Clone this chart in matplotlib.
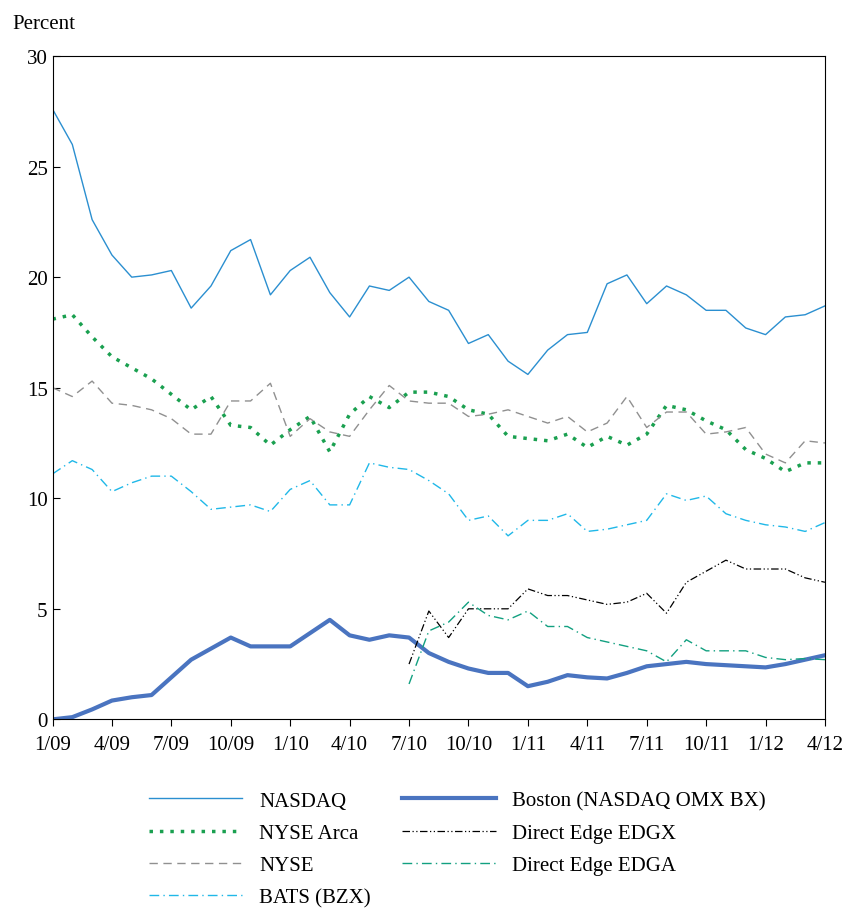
import numpy as np
import matplotlib
matplotlib.use("Agg")
import matplotlib.pyplot as plt

plt.rcParams['font.family'] = ['Liberation Serif', 'DejaVu Serif']

# -------- Data (monthly, 1/09 .. 4/12) --------
months = np.arange(40)
tick_labels = ["1/09", "4/09", "7/09", "10/09", "1/10", "4/10", "7/10", "10/10",
               "1/11", "4/11", "7/11", "10/11", "1/12", "4/12"]

nasdaq = [27.6, 26.0, 22.6, 21.0, 20.0, 20.1, 20.3, 18.6, 19.6, 21.2, 21.7, 19.2, 20.3, 20.9,
          19.3, 18.2, 19.6, 19.4, 20.0, 18.9, 18.5, 17.0, 17.4, 16.2, 15.6, 16.7, 17.4, 17.5,
          19.7, 20.1, 18.8, 19.6, 19.2, 18.5, 18.5, 17.7, 17.4, 18.2, 18.3, 18.7]
arca = [18.1, 18.3, 17.3, 16.4, 15.9, 15.4, 14.7, 14.0, 14.6, 13.3, 13.2, 12.4, 13.1, 13.7,
        12.1, 13.8, 14.6, 14.1, 14.8, 14.8, 14.6, 14.0, 13.8, 12.8, 12.7, 12.6, 12.9, 12.3,
        12.8, 12.4, 12.9, 14.2, 14.0, 13.5, 13.1, 12.2, 11.8, 11.2, 11.6, 11.6]
nyse = [15.0, 14.6, 15.3, 14.3, 14.2, 14.0, 13.6, 12.9, 12.9, 14.4, 14.4, 15.2, 12.8, 13.6,
        13.0, 12.8, 14.0, 15.1, 14.4, 14.3, 14.3, 13.7, 13.8, 14.0, 13.7, 13.4, 13.7, 13.0,
        13.4, 14.6, 13.2, 13.9, 13.9, 12.9, 13.0, 13.2, 12.0, 11.6, 12.6, 12.5]
bats = [11.1, 11.7, 11.3, 10.3, 10.7, 11.0, 11.0, 10.3, 9.5, 9.6, 9.7, 9.4, 10.4, 10.8,
        9.7, 9.7, 11.6, 11.4, 11.3, 10.8, 10.2, 9.0, 9.2, 8.3, 9.0, 9.0, 9.3, 8.5,
        8.6, 8.8, 9.0, 10.2, 9.9, 10.1, 9.3, 9.0, 8.8, 8.7, 8.5, 8.9]
boston = [0.0, 0.1, 0.45, 0.85, 1.0, 1.1, 1.9, 2.7, 3.2, 3.7, 3.3, 3.3, 3.3, 3.9,
          4.5, 3.8, 3.6, 3.8, 3.7, 3.0, 2.6, 2.3, 2.1, 2.1, 1.5, 1.7, 2.0, 1.9,
          1.85, 2.1, 2.4, 2.5, 2.6, 2.5, 2.45, 2.4, 2.35, 2.5, 2.7, 2.9]
edgx = [2.5, 4.9, 3.7, 5.0, 5.0, 5.0, 5.9, 5.6, 5.6, 5.4, 5.2, 5.3, 5.7, 4.8,
        6.2, 6.7, 7.2, 6.8, 6.8, 6.8, 6.4, 6.2]
edga = [1.6, 4.0, 4.4, 5.3, 4.7, 4.5, 4.9, 4.2, 4.2, 3.7, 3.5, 3.3, 3.1, 2.6,
        3.6, 3.1, 3.1, 3.1, 2.8, 2.7, 2.75, 2.7]
edge_months = months[18:]

# -------- Plot --------
fig = plt.figure(figsize=(8.47, 9.2), dpi=100)
ax = fig.add_axes([0.062, 0.217, 0.912, 0.721])

# order matters for the 2-column legend (column-major fill)
ax.plot(months, nasdaq, color="#2b8fd0", lw=1.0, label="NASDAQ")
ax.plot(months, arca, color="#1aa050", lw=2.5, ls=(0, (1, 2)), label="NYSE Arca")
ax.plot(months, nyse, color="#909090", lw=1.0, ls=(0, (6, 4)), label="NYSE")
ax.plot(months, bats, color="#20b8e8", lw=1.0, ls=(0, (7, 3, 1, 3)), label="BATS (BZX)")
ax.plot(months, boston, color="#4a74c0", lw=3.0, label="Boston (NASDAQ OMX BX)")
ax.plot(edge_months, edgx, color="black", lw=0.9, ls=(0, (6, 2, 1, 2, 1, 2)), label="Direct Edge EDGX")
ax.plot(edge_months, edga, color="#12a080", lw=1.0, ls=(0, (7, 3, 1, 3)), label="Direct Edge EDGA")

ax.set_xlim(0, 39)
ax.set_ylim(0, 30)
ax.set_xticks(months[::3])
ax.set_xticklabels(tick_labels)
ax.set_yticks([0, 5, 10, 15, 20, 25, 30])
ax.tick_params(labelsize=15, direction="in", length=5)
ax.tick_params(axis="x", direction="out", pad=6)
fig.text(0.015, 0.968, "Percent", fontsize=15)

ax.legend(loc="upper left", bbox_to_anchor=(0.1, -0.08), ncol=2, frameon=False,
          fontsize=15, handlelength=4.5, columnspacing=1.5, labelspacing=0.6)

fig.savefig("out.png")
